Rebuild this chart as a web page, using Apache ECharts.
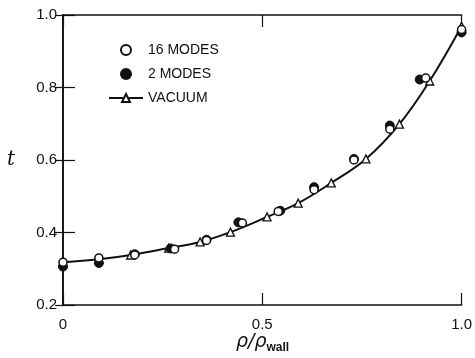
<!DOCTYPE html>
<html>
<head>
<meta charset="utf-8">
<script src="https://cdn.jsdelivr.net/npm/echarts@6/dist/echarts.min.js"></script>
<style>
  html, body { margin: 0; padding: 0; background: #fff; }
  #chart { width: 475px; height: 358px; }
</style>
</head>
<body>
<div id="chart"></div>
<script>
// Radial position rho/rho_wall and normalised value t for each case
const vacuumRho = [0, 0.09, 0.17, 0.265, 0.344, 0.42, 0.512, 0.59, 0.673, 0.76, 0.844, 0.92, 1.0];
const vacuumT   = [0.318, 0.326, 0.338, 0.357, 0.374, 0.401, 0.443, 0.481, 0.537, 0.603, 0.699, 0.818, 0.969];

const modes16Rho = [0, 0.09, 0.18, 0.28, 0.36, 0.45, 0.54, 0.63, 0.73, 0.82, 0.91, 1.0];
const modes16T   = [0.318, 0.330, 0.338, 0.354, 0.378, 0.426, 0.458, 0.518, 0.600, 0.685, 0.826, 0.960];

const modes2Rho = [0, 0.09, 0.18, 0.27, 0.36, 0.44, 0.545, 0.63, 0.73, 0.82, 0.895, 1.0];
const modes2T   = [0.306, 0.316, 0.340, 0.356, 0.380, 0.428, 0.460, 0.525, 0.603, 0.695, 0.822, 0.952];

const xTicks = { 0: '0', 0.5: '0.5', 1: '1.0' };

const pair = (xs, ys) => xs.map((x, i) => [x, ys[i]]);

const font = 'Liberation Sans, Arial, sans-serif';
const ink = '#111';

const chart = echarts.init(document.getElementById('chart'), null, { renderer: 'canvas' });

const baseAxisLine = { show: true, lineStyle: { color: ink, width: 1.6 } };

chart.setOption({
  animation: false,
  backgroundColor: '#fff',
  grid: { left: 63, right: 8, top: 15, bottom: 53 },
  legend: {
    orient: 'vertical',
    left: 103,
    top: 38,
    itemGap: 10,
    itemWidth: 34,
    itemHeight: 10,
    textStyle: { fontFamily: font, fontSize: 14, color: ink },
    data: [
      { name: '16 MODES' },
      { name: '2 MODES' },
      { name: 'VACUUM' }
    ]
  },
  xAxis: [
    {
      type: 'value', min: 0, max: 1, interval: 0.5, position: 'bottom',
      axisLine: baseAxisLine,
      axisTick: { show: true, inside: true, length: 12, lineStyle: { color: ink, width: 1.2 } },
      axisLabel: { fontFamily: font, fontSize: 15, color: ink, margin: 12,
        formatter: v => xTicks[v] !== undefined ? xTicks[v] : '' },
      splitLine: { show: false }
    },
    {
      type: 'value', min: 0, max: 1, interval: 0.5, position: 'top',
      axisLine: baseAxisLine,
      axisTick: { show: true, inside: true, length: 12, lineStyle: { color: ink, width: 1.2 } },
      axisLabel: { show: false },
      splitLine: { show: false }
    }
  ],
  yAxis: [
    {
      type: 'value', min: 0.2, max: 1.0, interval: 0.2, position: 'left',
      axisLine: baseAxisLine,
      axisTick: { show: true, inside: true, length: 12, lineStyle: { color: ink, width: 1.2 } },
      axisLabel: { fontFamily: font, fontSize: 15, color: ink, margin: 6,
        formatter: v => v.toFixed(1) },
      splitLine: { show: false }
    },
    {
      type: 'value', min: 0.2, max: 1.0, interval: 0.2, position: 'right',
      axisLine: baseAxisLine,
      axisTick: { show: true, inside: true, length: 8, lineStyle: { color: ink, width: 1.2 } },
      axisLabel: { show: false },
      splitLine: { show: false }
    }
  ],
  series: [
    {
      name: 'VACUUM',
      type: 'line',
      smooth: 0.4,
      data: pair(vacuumRho, vacuumT),
      symbol: 'triangle',
      symbolSize: 8,
      lineStyle: { color: ink, width: 2 },
      itemStyle: { color: '#fff', borderColor: ink, borderWidth: 1.3 },
      z: 2
    },
    {
      name: '16 MODES',
      type: 'scatter',
      data: pair(modes16Rho, modes16T),
      symbol: 'circle',
      symbolSize: 8,
      itemStyle: { color: '#fff', borderColor: ink, borderWidth: 1.5, opacity: 1 },
      z: 4
    },
    {
      name: '2 MODES',
      type: 'scatter',
      data: pair(modes2Rho, modes2T),
      symbol: 'circle',
      symbolSize: 9,
      itemStyle: { color: ink, borderColor: ink, borderWidth: 1, opacity: 1 },
      z: 3
    }
  ],
  graphic: [
    {
      type: 'text',
      left: 7,
      top: 150,
      style: { text: 't', font: 'italic 20px "DejaVu Serif", serif', fill: ink }
    },
    {
      type: 'text',
      left: 236,
      top: 333,
      style: {
        text: '{r|ρ/ρ}{s|wall}',
        rich: {
          r: { font: 'italic 19px "DejaVu Sans", sans-serif', fill: ink },
          s: { font: 'bold 12px "Liberation Sans", sans-serif', fill: ink, padding: [11, 0, 0, 0] }
        }
      }
    }
  ]
});
</script>
</body>
</html>
